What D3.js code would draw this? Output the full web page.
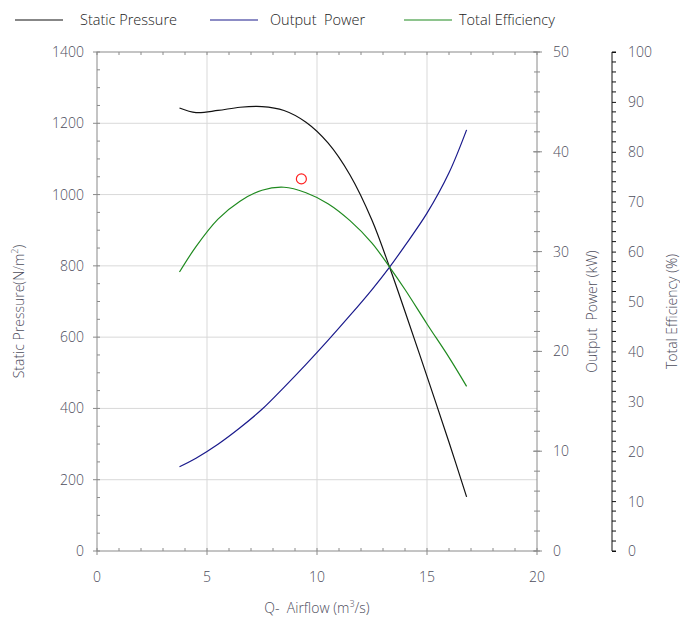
<!DOCTYPE html>
<html>
<head>
<meta charset="utf-8">
<script src="https://cdn.jsdelivr.net/npm/d3@7"></script>
<style>
  body { margin: 0; background: #fff; }
  text { font-family: "Open Sans", "Noto Sans", sans-serif; font-weight: 300; }
</style>
</head>
<body>
<svg id="chart" width="680" height="619"></svg>
<script>
// Fan performance curves: airflow vs static pressure, output power and total efficiency
const airflow    = [3.75, 4.5, 5.5, 6.5, 7.5, 8.5, 9.5, 10.5, 11.5, 12.5, 13.3, 14, 15, 16, 16.8];
const pressure   = [1243, 1230, 1236, 1245, 1247, 1236, 1203, 1145, 1055, 928, 796, 672, 490, 305, 152];
const power      = [8.45, 9.3, 10.7, 12.35, 14.2, 16.4, 18.7, 21.1, 23.6, 26.2, 28.45, 30.6, 33.85, 37.9, 42.2];
const efficiency = [55.9, 61.0, 66.5, 70.1, 72.3, 72.9, 71.8, 69.6, 66.2, 61.7, 56.9, 52.4, 45.5, 38.8, 33.0];

// Rated operating point
const ratedPoint = { airflow: 9.29, pressure: 1044 };

const xTicks = [0, 5, 10, 15, 20];
const pressureTicks = [0, 200, 400, 600, 800, 1000, 1200, 1400];
const powerTicks = [0, 10, 20, 30, 40, 50];
const effTicks = [0, 10, 20, 30, 40, 50, 60, 70, 80, 90, 100];

const seriesNames = ["Static Pressure", "Output  Power", "Total Efficiency"];
const seriesColors = ["#111111", "#1a1a8c", "#1f8a1f"];

const svg = d3.select("#chart");
const plotL = 97, plotR = 537, plotT = 52, plotB = 551;
const effAxisX = 612;

const x = d3.scaleLinear().domain([0, 20]).range([plotL, plotR]);
const yP = d3.scaleLinear().domain([0, 1400]).range([plotB, plotT]);
const yW = d3.scaleLinear().domain([0, 50]).range([plotB, plotT]);
const yE = d3.scaleLinear().domain([0, 100]).range([plotB, plotT]);

const labelColor = "#4d4d5c";
const axisColor = "#8a8a8a";
const gridColor = "#d9d9d9";

// Grid
const grid = svg.append("g");
grid.selectAll("line.gx").data(xTicks.slice(1, -1)).join("line")
  .attr("x1", d => x(d)).attr("x2", d => x(d)).attr("y1", plotT).attr("y2", plotB)
  .attr("stroke", gridColor).attr("stroke-width", 1);
grid.selectAll("line.gy").data(pressureTicks.slice(1, -1)).join("line")
  .attr("x1", plotL).attr("x2", plotR).attr("y1", d => yP(d)).attr("y2", d => yP(d))
  .attr("stroke", gridColor).attr("stroke-width", 1);

// Frame and minor ticks
const frame = svg.append("g").attr("stroke", axisColor).attr("stroke-width", 1).attr("fill", "none");
frame.append("rect").attr("x", plotL).attr("y", plotT).attr("width", plotR - plotL).attr("height", plotB - plotT);

const xMinor = d3.range(0, 20.01, 1);
frame.selectAll("line.xm").data(xMinor).join("line")
  .attr("x1", d => x(d)).attr("x2", d => x(d)).attr("y1", plotB).attr("y2", plotB - 3);
frame.selectAll("line.xt").data(xMinor).join("line")
  .attr("x1", d => x(d)).attr("x2", d => x(d)).attr("y1", plotT).attr("y2", plotT + 3);
frame.selectAll("line.xM").data(xTicks).join("line")
  .attr("x1", d => x(d)).attr("x2", d => x(d)).attr("y1", plotB).attr("y2", plotB + 4);

const pMinor = d3.range(0, 1400.1, 50);
frame.selectAll("line.pm").data(pMinor).join("line")
  .attr("x1", plotL).attr("x2", plotL + 3).attr("y1", d => yP(d)).attr("y2", d => yP(d));
frame.selectAll("line.pM").data(pressureTicks).join("line")
  .attr("x1", plotL - 4).attr("x2", plotL).attr("y1", d => yP(d)).attr("y2", d => yP(d));

const wMinor = d3.range(0, 50.01, 2);
frame.selectAll("line.wm").data(wMinor).join("line")
  .attr("x1", plotR - 3).attr("x2", plotR + 3).attr("y1", d => yW(d)).attr("y2", d => yW(d));
frame.selectAll("line.wM").data(powerTicks).join("line")
  .attr("x1", plotR - 4).attr("x2", plotR + 5).attr("y1", d => yW(d)).attr("y2", d => yW(d));

// Tick labels
const tickText = svg.append("g").attr("fill", labelColor).attr("font-size", 14);
tickText.selectAll("text.x").data(xTicks).join("text")
  .attr("x", d => x(d)).attr("y", 582).attr("text-anchor", "middle").text(d => d);
tickText.selectAll("text.p").data(pressureTicks).join("text")
  .attr("x", 84).attr("y", d => yP(d) + 5).attr("text-anchor", "end").text(d => d);
tickText.selectAll("text.w").data(powerTicks).join("text")
  .attr("x", 553).attr("y", d => yW(d) + 5).attr("text-anchor", "start").text(d => d);

// Efficiency axis, offset to the right
const effAxis = d3.axisRight(yE).tickValues(effTicks).tickSize(4).tickFormat(d => d);
const ea = svg.append("g").attr("transform", `translate(${effAxisX},0)`).call(effAxis);
ea.select(".domain").attr("stroke", "#111").attr("d", `M4,${plotT}H0V${plotB}H4`);
ea.selectAll(".tick line").attr("stroke", "#111");
ea.selectAll(".tick text").attr("fill", labelColor).attr("font-size", 14)
  .attr("font-family", "'Open Sans', sans-serif").attr("x", 16).attr("dy", "0.35em");
ea.selectAll("line.em").data(d3.range(0, 100.1, 2).filter(d => d % 10 !== 0)).join("line")
  .attr("x1", 0).attr("x2", 4).attr("y1", d => yE(d)).attr("y2", d => yE(d)).attr("stroke", "#111");

// Axis titles
const titles = svg.append("g").attr("fill", labelColor).attr("font-size", 14);
titles.append("text").attr("x", 317).attr("y", 613).attr("text-anchor", "middle")
  .html("Q-&#160; Airflow (m<tspan baseline-shift='super' font-size='9'>3</tspan>/s)");
titles.append("text").attr("transform", `translate(24,${(plotT + plotB) / 2 + 10}) rotate(-90)`)
  .attr("text-anchor", "middle")
  .html("Static Pressure(N/m<tspan baseline-shift='super' font-size='9'>2</tspan>)");
titles.append("text").attr("transform", `translate(597,${(plotT + plotB) / 2 + 10}) rotate(-90)`)
  .attr("text-anchor", "middle").attr("xml:space", "preserve").text("Output  Power (kW)");
titles.append("text").attr("transform", `translate(677,${(plotT + plotB) / 2 + 10}) rotate(-90)`)
  .attr("text-anchor", "middle").text("Total Efficiency (%)");

// Curves
const plot = svg.append("g");
const mkLine = (yScale) => d3.line().x(d => x(d[0])).y(d => yScale(d[1])).curve(d3.curveCatmullRom.alpha(0.5));
const seriesData = [
  { vals: pressure, scale: yP },
  { vals: power, scale: yW },
  { vals: efficiency, scale: yE }
];
seriesData.forEach((s, i) => {
  plot.append("path")
    .datum(airflow.map((a, j) => [a, s.vals[j]]))
    .attr("d", mkLine(s.scale))
    .attr("fill", "none").attr("stroke", seriesColors[i]).attr("stroke-width", 1.2);
});

plot.append("circle")
  .attr("cx", x(ratedPoint.airflow)).attr("cy", yP(ratedPoint.pressure)).attr("r", 5)
  .attr("fill", "none").attr("stroke", "#ff2020").attr("stroke-width", 1.2);

// Legend
const legendX = [15, 210, 404];
const legendTextX = [80, 270, 459];
const legend = svg.append("g");
seriesNames.forEach((name, i) => {
  legend.append("line").attr("x1", legendX[i]).attr("x2", legendX[i] + 48)
    .attr("y1", 20).attr("y2", 20).attr("stroke", seriesColors[i]).attr("stroke-width", 1.2);
  legend.append("text").attr("x", legendTextX[i]).attr("y", 25)
    .attr("font-size", 14.5).attr("fill", "#222").attr("xml:space", "preserve").text(name);
});
</script>
</body>
</html>
